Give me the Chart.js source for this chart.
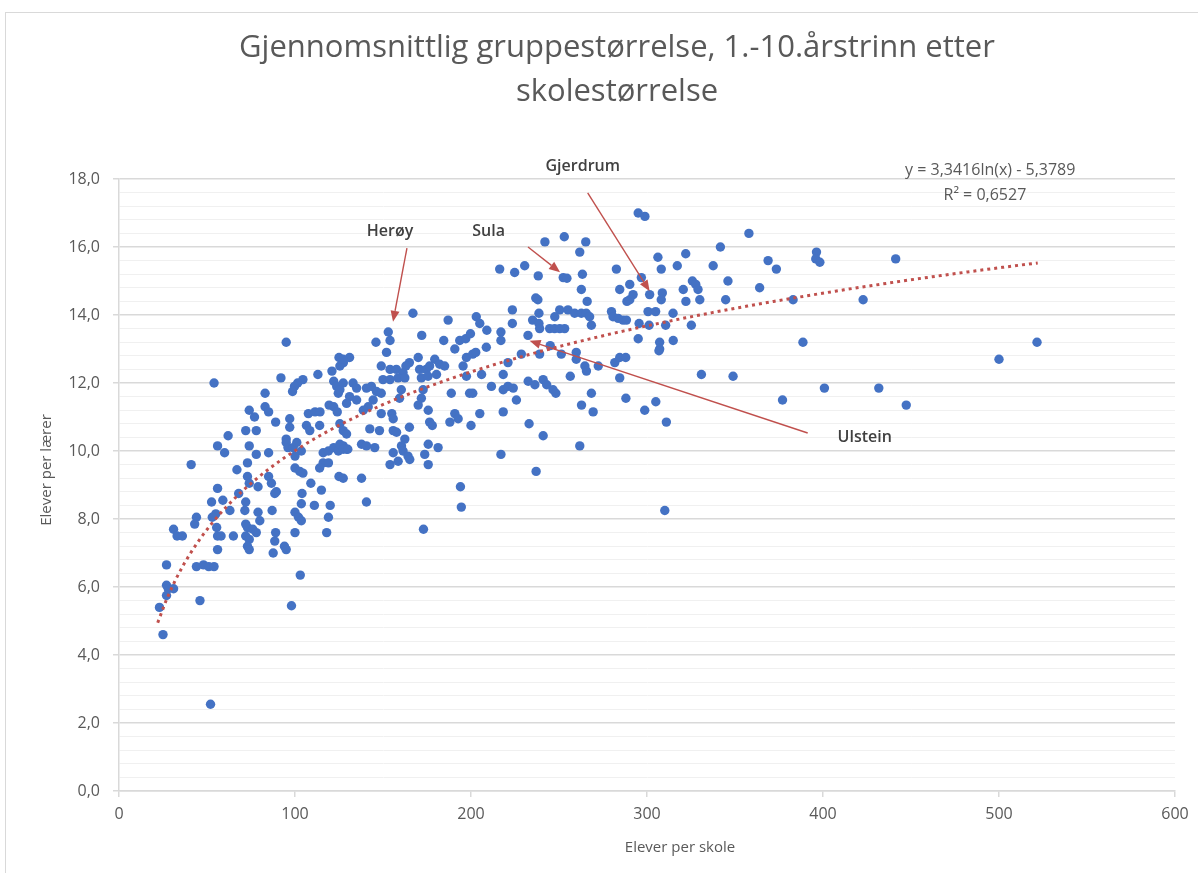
<!DOCTYPE html>
<html>
<head>
<meta charset="utf-8">
<script src="https://cdn.jsdelivr.net/npm/chart.js@4.4.1/dist/chart.umd.min.js"></script>
<style>
  html, body { margin: 0; padding: 0; background: #fff; overflow: hidden; }
  #wrap { position: relative; width: 1198px; height: 873px; overflow: hidden; }
  #frame { position: absolute; left: 5px; top: 12px; width: 1300px; height: 1000px; border: 1px solid #d9d9d9; }
  canvas { position: absolute; left: 0; top: 0; }
</style>
</head>
<body>
<div id="wrap">
  <div id="frame"></div>
  <canvas id="gruppeChart" width="1234" height="873"></canvas>
</div>
<script>
// elever per skole (x) og elever per lærer (y), én verdi per skole
const eleverPerSkole = [
  25, 23, 52, 46, 98, 27, 28, 27, 31, 27,
  31, 33, 36, 41, 44, 43, 44, 48, 51, 54,
  54, 52.6, 56, 59, 63, 55, 53, 55.5, 56, 58,
  65, 56, 56, 60, 62, 67, 73, 73, 74, 79,
  68, 72, 71.5, 72, 73, 76, 78, 72, 74, 73,
  74, 79, 80, 87, 89, 88.5, 87.6, 94, 95, 103,
  95, 92, 104.5, 101.5, 99.7, 98.6, 113, 121, 125, 127.5,
  125.5, 122, 123.7, 124.6, 83, 83, 85, 74, 77, 89,
  97, 97, 107.6, 111.4, 114.2, 119.4, 122, 124, 106.5, 108.4,
  114, 72, 78, 74, 78, 85, 95, 95, 96, 99,
  101, 103.6, 100, 116, 119, 122, 124.6, 127.4, 129.3, 116,
  119, 114, 125, 85, 86.6, 89.4, 88.5, 100, 102.7, 104.5,
  109, 104, 103.6, 115, 111, 120, 119, 118, 100, 102,
  103.6, 100, 173, 140.6, 167, 187, 203, 205, 209, 223.5,
  223.5, 238, 238.6, 235, 238.6, 239, 247.6, 217, 217, 232.4,
  245, 239, 153, 154, 146, 172, 184.5, 193.6, 197, 199.7,
  208.7, 190.8, 152, 131, 127.4, 170, 165, 163, 149, 154,
  157.6, 161.4, 170.8, 174.6, 179.4, 182.2, 185, 176.5, 171.8, 175.6,
  180.4, 197.4, 201, 202.7, 195.5, 197.4, 221, 218.3, 206, 228.6,
  133, 135, 140.6, 143.4, 146.3, 150, 154, 158.6, 162.4, 160.4,
  159.4, 172.8, 171.8, 127.4, 125.5, 131, 135, 129.3, 144.4, 149,
  141.6, 138.8, 211.6, 218.3, 221, 224, 225.8, 232.5, 236.3, 241,
  243, 246.6, 248.2, 188.8, 199.2, 201, 170, 175.7, 149, 155,
  155.8, 176.5, 178, 188, 190.8, 192.7, 205, 200, 218.3, 233,
  241, 125.5, 127.4, 129.3, 142.5, 148, 155.8, 157.7, 165, 162.4,
  125.5, 127.4, 130, 137.8, 140.6, 145.3, 160.5, 161.4, 164.2, 165.2,
  155.8, 175.7, 181.3, 173.7, 175.7, 154, 158.6, 217, 237, 127.4,
  137.8, 194, 194.5, 295, 298.8, 242, 216.3, 224.8, 230.5, 238.2,
  236.8, 253, 265.2, 261.8, 252.4, 254.5, 263.3, 262.7, 266, 282.6,
  284.5, 290.2, 292.1, 290.2, 288.6, 296.8, 301.5, 306.2, 308.1, 308.7,
  308.1, 317.2, 322, 320.6, 322.1, 325.8, 327.7, 329, 330, 337.6,
  341.7, 357.9, 346, 344.7, 364, 368.8, 373.5, 383, 300.6, 304.9,
  314.8, 295.5, 301.2, 310.6, 325.2, 295, 307.2, 307.2, 306.8, 314.9,
  279.8, 280.7, 283.6, 286.4, 288.3, 250.4, 255.1, 258.9, 262.7, 265.5,
  267.4, 268.4, 244.7, 247.5, 250.4, 253.2, 251.3, 259.8, 259.8, 264.7,
  265.6, 272.3, 281.7, 284.5, 287.9, 284.5, 256.4, 268.4, 269.4, 262.8,
  288, 298.7, 305, 311, 330.9, 348.9, 377, 261.8, 310.1, 396.3,
  395.9, 398.2, 441.3, 422.8, 388.6, 400.8, 431.7, 447.3, 500, 521.6
];
const eleverPerLaerer = [
  4.6, 5.4, 2.55, 5.6, 5.45, 6.05, 5.95, 5.75, 5.95, 6.65,
  7.7, 7.5, 7.5, 9.6, 8.05, 7.85, 6.6, 6.65, 6.6, 6.6,
  12.0, 8.5, 8.9, 8.55, 8.25, 8.15, 8.05, 7.75, 7.5, 7.5,
  7.5, 7.1, 10.15, 9.95, 10.45, 9.45, 9.65, 9.25, 9.05, 8.95,
  8.75, 8.5, 8.25, 7.85, 7.75, 7.7, 7.6, 7.5, 7.4, 7.2,
  7.1, 8.2, 7.95, 8.25, 7.6, 7.35, 7.0, 7.2, 7.1, 6.35,
  13.2, 12.15, 12.1, 12.0, 11.9, 11.75, 12.25, 12.35, 12.75, 12.6,
  12.5, 12.05, 11.9, 11.7, 11.7, 11.3, 11.15, 11.2, 11.0, 10.85,
  10.95, 10.7, 11.1, 11.15, 11.15, 11.35, 11.3, 11.15, 10.75, 10.6,
  10.75, 10.6, 10.6, 10.15, 9.9, 9.95, 10.35, 10.25, 10.1, 10.1,
  10.25, 10.0, 9.85, 9.95, 10.0, 10.1, 10.0, 10.15, 10.05, 9.65,
  9.65, 9.5, 9.25, 9.25, 9.05, 8.8, 8.75, 9.5, 9.4, 9.35,
  9.05, 8.75, 8.45, 8.85, 8.4, 8.4, 8.05, 7.6, 8.2, 8.05,
  7.95, 7.6, 7.7, 8.5, 14.05, 13.85, 13.95, 13.75, 13.55, 14.15,
  13.75, 14.45, 14.05, 13.85, 13.75, 13.6, 13.95, 13.5, 13.25, 13.4,
  13.1, 12.85, 13.5, 13.25, 13.2, 13.4, 13.25, 13.25, 13.3, 13.45,
  13.05, 13.0, 12.9, 12.75, 12.7, 12.75, 12.6, 12.5, 12.5, 12.4,
  12.4, 12.3, 12.4, 12.4, 12.7, 12.55, 12.5, 12.5, 12.15, 12.2,
  12.25, 12.75, 12.85, 12.9, 12.5, 12.2, 12.6, 12.25, 12.25, 12.85,
  12.0, 11.85, 11.85, 11.9, 11.75, 12.1, 12.1, 12.15, 12.15, 11.8,
  11.55, 11.8, 11.55, 12.0, 11.8, 11.6, 11.5, 11.4, 11.5, 11.7,
  11.3, 11.2, 11.9, 11.8, 11.9, 11.85, 11.5, 12.05, 11.95, 12.1,
  11.95, 11.8, 11.7, 11.7, 11.7, 11.7, 11.35, 11.2, 11.1, 11.1,
  10.95, 10.85, 10.75, 10.85, 11.1, 10.95, 11.1, 10.75, 11.15, 10.8,
  10.45, 10.8, 10.6, 10.5, 10.65, 10.6, 10.6, 10.55, 10.7, 10.35,
  10.2, 10.05, 10.05, 10.2, 10.15, 10.1, 10.15, 10.0, 9.85, 9.75,
  9.95, 10.2, 10.1, 9.9, 9.6, 9.6, 9.7, 9.9, 9.4, 9.2,
  9.2, 8.95, 8.35, 17.0, 16.9, 16.15, 15.35, 15.25, 15.45, 15.15,
  14.5, 16.3, 16.15, 15.85, 15.1, 15.08, 15.2, 14.75, 14.4, 15.35,
  14.75, 14.9, 14.6, 14.45, 14.4, 15.1, 14.6, 15.7, 15.35, 14.65,
  14.45, 15.45, 15.8, 14.75, 14.4, 15.0, 14.9, 14.75, 14.45, 15.45,
  16.0, 16.4, 15.0, 14.45, 14.8, 15.6, 15.35, 14.45, 14.1, 14.1,
  14.05, 13.75, 13.7, 13.7, 13.7, 13.3, 13.2, 13.0, 12.95, 13.25,
  14.1, 13.95, 13.9, 13.85, 13.85, 14.15, 14.15, 14.05, 14.05, 14.05,
  13.95, 13.7, 13.6, 13.6, 13.6, 13.6, 12.85, 12.9, 12.7, 12.5,
  12.35, 12.5, 12.6, 12.75, 12.75, 12.15, 12.2, 11.7, 11.15, 11.35,
  11.55, 11.2, 11.45, 10.85, 12.25, 12.2, 11.5, 10.15, 8.25, 15.85,
  15.65, 15.55, 15.65, 14.45, 13.2, 11.85, 11.85, 11.35, 12.7, 13.2
];

// logaritmisk trendlinje slik den står i diagrammet
const trendA = 3.3416;
const trendB = -5.3789;
const trendFra = 22;
const trendTil = 522;
const trendTekst = ['y = 3,3416ln(x) - 5,3789', 'R\u00b2 = 0,6527'];

// navngitte skoler med etikett og pil (i akseverdier)
const merkeNavn = ['Herøy', 'Sula', 'Gjerdrum', 'Ulstein'];
const merkeTekst = [[154, 16.45], [210, 16.45], [263.5, 18.38], [423.7, 10.41]];
const merkePil = [
  [[163.6, 15.97], [155.7, 13.8]],
  [[232.4, 16.0], [250.6, 15.26]],
  [[266.3, 17.59], [301.5, 14.7]],
  [[391.3, 10.53], [233.3, 13.24]]
];

const tittel = ['Gjennomsnittlig gruppestørrelse, 1.-10.årstrinn etter', 'skolestørrelse'];
const xTittel = 'Elever per skole';
const yTittel = 'Elever per lærer';

const punkter = eleverPerSkole.map((x, i) => ({ x: x, y: eleverPerLaerer[i] }));
const trend = [];
for (let x = trendFra; x <= trendTil; x += 5) {
  trend.push({ x: x, y: trendA * Math.log(x) + trendB });
}

const GRAA = '#595959';
const FONT = '"Open Sans", "Liberation Sans", sans-serif';
const erHoved = v => Math.abs(v / 2 - Math.round(v / 2)) < 1e-6;

const tekstPlugin = {
  id: 'tekster',
  afterDraw(chart) {
    const c = chart.ctx;
    const sx = chart.scales.x, sy = chart.scales.y;
    c.save();
    // aksetitler
    c.fillStyle = GRAA;
    c.font = '15px ' + FONT;
    c.textAlign = 'center';
    c.textBaseline = 'middle';
    c.fillText(xTittel, 680, 848);
    c.save();
    c.translate(47, 470);
    c.rotate(-Math.PI / 2);
    c.fillText(yTittel, 0, 0);
    c.restore();
    // trendlinje-likning
    c.font = '16px ' + FONT;
    c.fillText(trendTekst[0], sx.getPixelForValue(495), sy.getPixelForValue(18.25));
    c.fillText(trendTekst[1], sx.getPixelForValue(492), sy.getPixelForValue(17.52));
    // piler og navn
    c.strokeStyle = '#C0504D';
    c.fillStyle = '#C0504D';
    c.lineWidth = 1.4;
    merkePil.forEach(p => {
      const x1 = sx.getPixelForValue(p[0][0]), y1 = sy.getPixelForValue(p[0][1]);
      const x2 = sx.getPixelForValue(p[1][0]), y2 = sy.getPixelForValue(p[1][1]);
      const a = Math.atan2(y2 - y1, x2 - x1);
      const len = 11, w = 4.5;
      const bx = x2 - len * Math.cos(a), by = y2 - len * Math.sin(a);
      c.beginPath();
      c.moveTo(x1, y1);
      c.lineTo(bx, by);
      c.stroke();
      c.beginPath();
      c.moveTo(x2, y2);
      c.lineTo(bx + w * Math.sin(a), by - w * Math.cos(a));
      c.lineTo(bx - w * Math.sin(a), by + w * Math.cos(a));
      c.closePath();
      c.fill();
    });
    c.fillStyle = '#404040';
    c.font = '600 16px ' + FONT;
    merkeNavn.forEach((n, i) => {
      c.fillText(n, sx.getPixelForValue(merkeTekst[i][0]), sy.getPixelForValue(merkeTekst[i][1]));
    });
    c.restore();
  }
};

new Chart(document.getElementById('gruppeChart'), {
  type: 'scatter',
  data: {
    datasets: [{
      label: 'Skoler',
      data: punkter,
      backgroundColor: '#4472C4',
      borderColor: '#4472C4',
      borderWidth: 0,
      pointRadius: 4.7,
      pointHoverRadius: 4.7,
      order: 1
    }, {
      label: 'Logaritmisk trend',
      type: 'line',
      data: trend,
      borderColor: '#C0504D',
      borderWidth: 3,
      borderDash: [3, 4],
      borderCapStyle: 'butt',
      pointRadius: 0,
      fill: false,
      tension: 0,
      order: 0
    }]
  },
  options: {
    responsive: false,
    animation: false,
    events: [],
    layout: { padding: 0 },
    plugins: {
      legend: { display: false },
      tooltip: { enabled: false },
      title: {
        display: true,
        text: tittel,
        color: GRAA,
        font: { family: FONT, size: 31, weight: 'normal', lineHeight: '44px' },
        padding: { top: 26, bottom: 65 }
      }
    },
    scales: {
      x: {
        type: 'linear',
        min: 0,
        max: 600,
        ticks: { stepSize: 100, color: GRAA, font: { family: FONT, size: 16 }, padding: 8 },
        grid: { display: true, drawOnChartArea: false, drawTicks: true, tickLength: 6, color: '#d9d9d9', lineWidth: 1.5 },
        border: { display: true, color: '#d9d9d9', width: 1.5 },
        afterFit(scale) { scale.height = 82; }
      },
      y: {
        min: 0,
        max: 18,
        ticks: {
          stepSize: 0.4,
          autoSkip: false,
          color: GRAA,
          font: { family: FONT, size: 16 },
          padding: 13,
          callback: v => erHoved(v) ? v.toFixed(1).replace('.', ',') : ''
        },
        grid: {
          color: c => erHoved(c.tick.value) ? '#d9d9d9' : '#f0f0f0',
          lineWidth: c => erHoved(c.tick.value) ? 1.5 : 1,
          tickColor: c => erHoved(c.tick.value) ? '#d9d9d9' : 'rgba(0,0,0,0)',
          tickLength: 6
        },
        border: { display: true, color: '#d9d9d9', width: 1.5 },
        afterFit(scale) { scale.width = 119; }
      },
      // tom høyreside-akse som bare holder plass til kanten av diagrammet
      hoyre: {
        position: 'right',
        display: true,
        ticks: { display: false },
        grid: { display: false },
        border: { display: false },
        afterFit(scale) { scale.width = 59; }
      }
    }
  },
  plugins: [tekstPlugin]
});
</script>
</body>
</html>
